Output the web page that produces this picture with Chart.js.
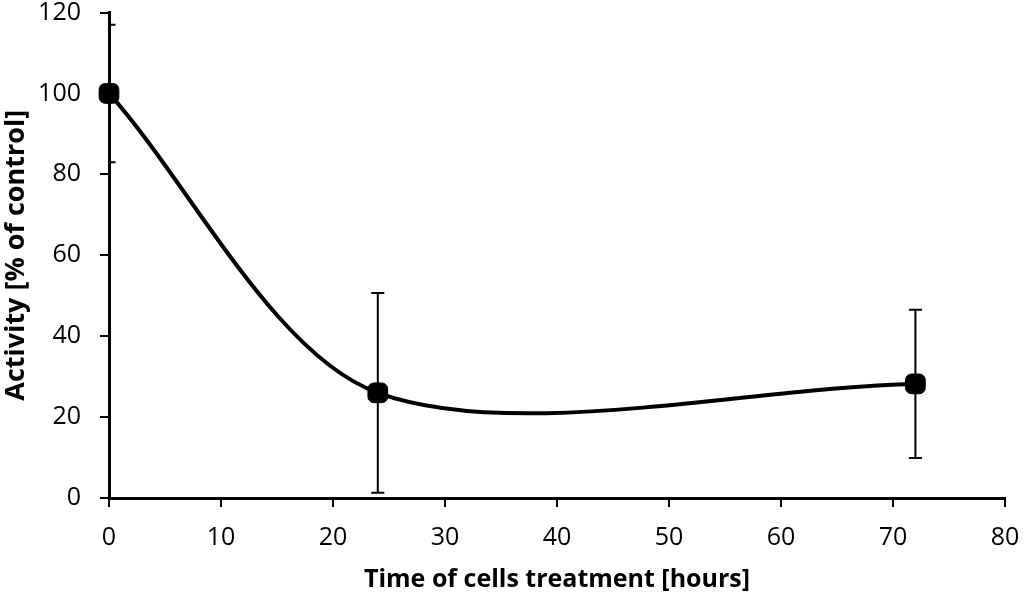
<!DOCTYPE html>
<html>
<head>
<meta charset="utf-8">
<script src="https://cdn.jsdelivr.net/npm/chart.js@4"></script>
<style>
  html, body { margin: 0; padding: 0; background: #fff; }
  #wrap { width: 1024px; height: 595px; }
</style>
</head>
<body>
<div id="wrap"><canvas id="activity"></canvas></div>
<script>
// data
const hours = [0, 24, 72];
const activity = [100, 26, 28.2];
const errors = [17, 24.7, 18.3];
const xTicks = [0, 10, 20, 30, 40, 50, 60, 70, 80];
const yTicks = [0, 20, 40, 60, 80, 100, 120];

const font = 'Open Sans';

// simple error bar plugin using the chart scales
const errorBars = {
    id: 'errorBars',
    afterDatasetsDraw(chart) {
        const { ctx, chartArea, scales: { x, y } } = chart;
        ctx.save();
        ctx.beginPath();
        ctx.rect(chartArea.left, chartArea.top, chartArea.right - chartArea.left, chartArea.bottom - chartArea.top);
        ctx.clip();
        ctx.strokeStyle = '#000';
        ctx.lineWidth = 2;
        hours.forEach((h, i) => {
            const px = x.getPixelForValue(h);
            const top = y.getPixelForValue(activity[i] + errors[i]);
            const bot = y.getPixelForValue(activity[i] - errors[i]);
            ctx.beginPath();
            ctx.moveTo(px, top); ctx.lineTo(px, bot);
            ctx.moveTo(px - 6.5, top); ctx.lineTo(px + 6.5, top);
            ctx.moveTo(px - 6.5, bot); ctx.lineTo(px + 6.5, bot);
            ctx.stroke();
        });
        ctx.restore();
    }
};

const ctx = document.getElementById('activity');
const chart = new Chart(ctx, {
    type: 'line',
    data: {
        datasets: [{
            data: hours.map((h, i) => ({ x: h, y: activity[i] })),
            borderColor: '#000',
            backgroundColor: '#000',
            borderWidth: 4,
            tension: 0.3,
            pointStyle: 'rectRounded',
            pointRadius: 11.5,
            pointBorderWidth: 1,
            pointBackgroundColor: '#000',
            clip: false
        }]
    },
    plugins: [errorBars],
    options: {
        responsive: true,
        maintainAspectRatio: false,
        animation: false,
        layout: { padding: { top: 10, right: 19, left: 0, bottom: 0 } },
        plugins: { legend: { display: false }, tooltip: { enabled: false } },
        scales: {
            x: {
                type: 'linear',
                min: 0, max: 80,
                afterBuildTicks: s => { s.ticks = xTicks.map(v => ({ value: v })); },
                afterFit: s => { s.height = 97; s.paddingLeft = 0; s.paddingRight = 0; },
                border: { display: true, color: '#000', width: 3 },
                grid: { drawOnChartArea: false, color: '#000', lineWidth: 2, tickLength: 9 },
                ticks: { color: '#000', padding: 16, font: { family: font, size: 25 }, maxRotation: 0 },
                title: { display: true, text: 'Time of cells treatment [hours]', color: '#000',
                         font: { family: font, size: 25, weight: 'bold' }, padding: { top: 0, bottom: 0 } }
            },
            y: {
                min: 0, max: 120,
                afterBuildTicks: s => { s.ticks = yTicks.map(v => ({ value: v })); },
                afterFit: s => { s.width = 109; s.paddingTop = 0; s.paddingBottom = 0; },
                border: { display: true, color: '#000', width: 3 },
                grid: { drawOnChartArea: false, color: '#000', lineWidth: 2, tickLength: 9 },
                ticks: { color: '#000', padding: 19, font: { family: font, size: 25 } },
                title: { display: true, text: 'Activity [% of control]', color: '#000',
                         font: { family: font, size: 27, weight: 'bold' }, padding: { top: 0, bottom: 0 } }
            }
        }
    }
});
</script>
</body>
</html>
